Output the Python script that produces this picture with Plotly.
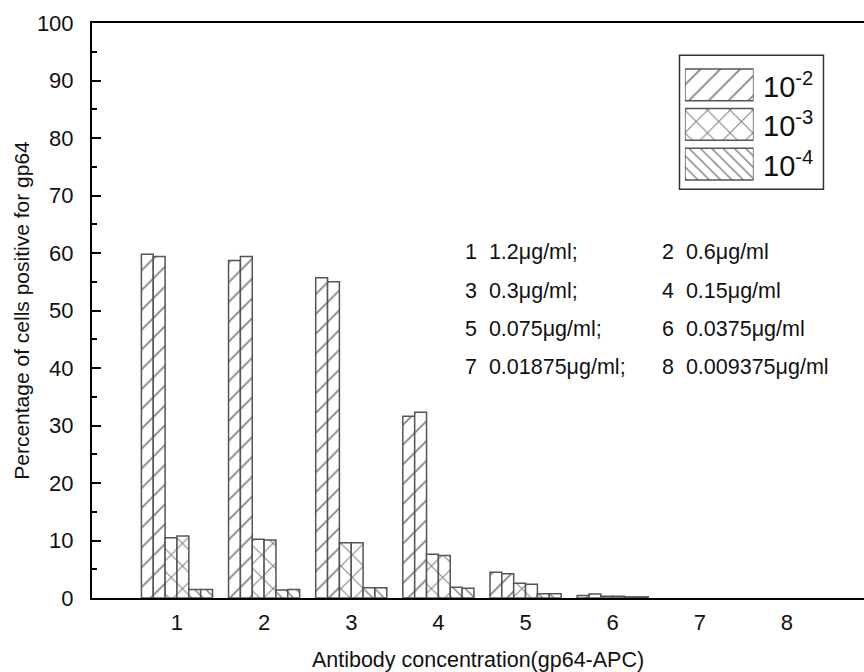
import plotly.graph_objects as go

# ---------------- data ----------------
categories = [1, 2, 3, 4, 5, 6, 7, 8]
dil_1e2_a = [59.8, 58.7, 55.7, 31.6, 4.5, 0.45, None, None]
dil_1e2_b = [59.4, 59.4, 55.0, 32.3, 4.2, 0.7, None, None]
dil_1e3_a = [10.5, 10.2, 9.6, 7.6, 2.55, 0.3, None, None]
dil_1e3_b = [10.8, 10.1, 9.6, 7.4, 2.4, 0.3, None, None]
dil_1e4_a = [1.5, 1.4, 1.8, 1.85, 0.75, 0.2, None, None]
dil_1e4_b = [1.5, 1.5, 1.8, 1.7, 0.75, 0.2, None, None]

legend_labels = ["10<sup>-2</sup>", "10<sup>-3</sup>", "10<sup>-4</sup>"]
conc_labels = ["1.2μg/ml", "0.6μg/ml", "0.3μg/ml", "0.15μg/ml",
               "0.075μg/ml", "0.0375μg/ml", "0.01875μg/ml", "0.009375μg/ml"]

FONT = "Liberation Sans, Arial, sans-serif"
LINE = "#555555"
HATCH = "#000000"

patterns = {
    "/": dict(shape="/", size=14, solidity=0.12, fgcolor=HATCH, bgcolor="white"),
    "x": dict(shape="x", size=16, solidity=0.12, fgcolor=HATCH, bgcolor="white"),
    "\\": dict(shape="\\", size=8, solidity=0.18, fgcolor=HATCH, bgcolor="white"),
}

fig = go.Figure()
series = [
    (dil_1e2_a, "/"), (dil_1e2_b, "/"),
    (dil_1e3_a, "x"), (dil_1e3_b, "x"),
    (dil_1e4_a, "\\"), (dil_1e4_b, "\\"),
]
for vals, pat in series:
    fig.add_trace(go.Bar(
        x=categories, y=vals, showlegend=False,
        marker=dict(color="white", line=dict(color=LINE, width=1.5),
                    pattern=patterns[pat]),
        xaxis="x", yaxis="y",
    ))

# legend swatches drawn as a small bar subplot
fig.add_trace(go.Bar(
    y=[3, 2, 1], x=[1, 1, 1], orientation="h", showlegend=False,
    marker=dict(color="white", line=dict(color=LINE, width=1.5),
                pattern=dict(shape=["/", "x", "\\"], size=[14, 16, 8],
                             solidity=[0.12, 0.12, 0.18], fgcolor=HATCH, bgcolor="white")),
    xaxis="x2", yaxis="y2", width=0.8,
))

fig.update_layout(
    width=864, height=672,
    margin=dict(l=92, r=0, t=23, b=74),
    paper_bgcolor="white", plot_bgcolor="white",
    barmode="group", bargap=0.184, bargroupgap=0,
    font=dict(family=FONT, color="#111111"),
    xaxis=dict(
        range=[0.025, 8.884], tickvals=categories, ticktext=[str(c) for c in categories],
        showgrid=False, zeroline=False, showline=True, linecolor="black", linewidth=2,
        mirror=True, ticks="", tickfont=dict(size=22), ticklabelstandoff=4,
        title=dict(text="Antibody concentration(gp64-APC)", font=dict(size=21.5), standoff=19),
    ),
    yaxis=dict(
        range=[0, 100], dtick=10, showgrid=False, zeroline=False,
        showline=True, linecolor="black", linewidth=2,
        ticks="inside", ticklen=9, tickwidth=1.5, tickcolor="black",
        minor=dict(dtick=5, ticks="inside", ticklen=5, tickwidth=1.5, tickcolor="black"),
        tickfont=dict(size=22), ticklabelstandoff=12,
        title=dict(text="Percentage of cells positive for gp64", font=dict(size=21), standoff=2),
    ),
    xaxis2=dict(domain=[0.768, 0.857], range=[0, 1], anchor="y2", visible=False, fixedrange=True),
    yaxis2=dict(domain=[0.72, 0.927], range=[0.5, 3.5], anchor="x2", visible=False, fixedrange=True),
)

# legend frame and labels
fig.add_shape(type="rect", xref="paper", yref="paper", x0=0.761, x1=0.9475, y0=0.711, y1=0.944,
              line=dict(color="#333333", width=1.5), fillcolor="rgba(0,0,0,0)", layer="below")
for lab, yv in zip(legend_labels, [3, 2, 1]):
    fig.add_annotation(x=0.866, xref="paper", y=yv, yref="y2", text=lab, showarrow=False,
                       xanchor="left", yanchor="middle", font=dict(size=29, family=FONT, color="#111"))

# concentration key
row_y = [60.2, 53.4, 46.8, 40.2]
for i, c in enumerate(conc_labels):
    row = i // 2
    col = i % 2
    txt = f"{i + 1}&nbsp;&nbsp;{c}" + (";" if col == 0 else "")
    fig.add_annotation(x=[0.4805, 0.7355][col], xref="paper", y=row_y[row], yref="y",
                       text=txt, showarrow=False, xanchor="left", yanchor="middle",
                       font=dict(size=21.5, family=FONT, color="#111"))

fig.write_html("out.html")
